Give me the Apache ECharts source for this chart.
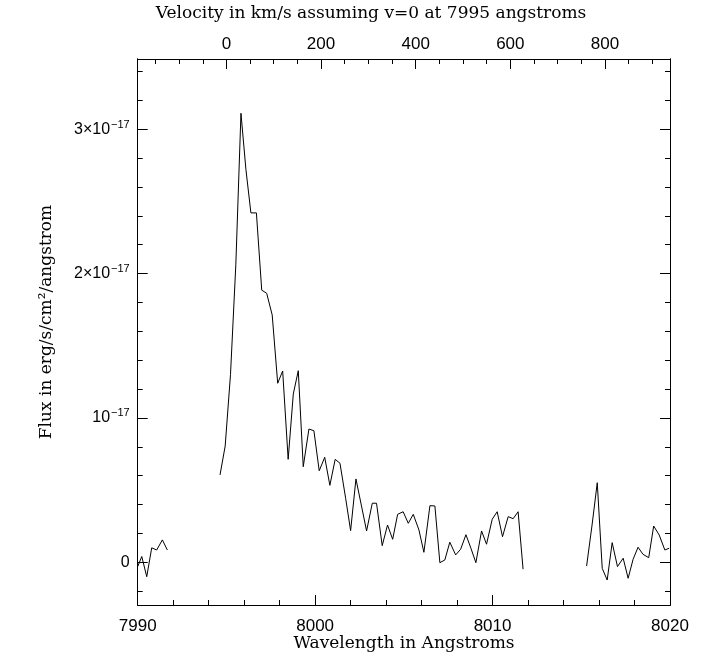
<!DOCTYPE html>
<html><head><meta charset="utf-8">
<script src="https://cdn.jsdelivr.net/npm/echarts@6/dist/echarts.min.js"></script>
<style>html,body{margin:0;padding:0;background:#fff}#c{width:704px;height:653px}</style>
</head><body><div id="c"></div>
<script>
// Flux values in units of 1e-17 erg/s/cm^2/angstrom
const wave1 = [7990.00, 7990.23, 7990.51, 7990.79, 7991.07, 7991.39, 7991.67];
const flux1 = [-0.03, 0.04, -0.10, 0.10, 0.085, 0.155, 0.085];

const wave2 = [7994.64, 7994.93, 7995.23, 7995.53, 7995.82, 7996.10, 7996.38, 7996.69, 7996.99,
  7997.27, 7997.58, 7997.89, 7998.17, 7998.48, 7998.77, 7999.05, 7999.33, 7999.65, 7999.93,
  8000.23, 8000.54, 8000.83, 8001.13, 8001.40, 8001.72, 8002.00, 8002.30, 8002.60, 8002.90,
  8003.22, 8003.46, 8003.78, 8004.08, 8004.37, 8004.65, 8004.96, 8005.25, 8005.53, 8005.85,
  8006.13, 8006.47, 8006.75, 8007.03, 8007.31, 8007.59, 8007.92, 8008.20, 8008.50, 8008.78,
  8009.06, 8009.38, 8009.66, 8009.98, 8010.26, 8010.56, 8010.88, 8011.16, 8011.44, 8011.72];
const flux2 = [0.605, 0.805, 1.30, 2.06, 3.11, 2.72, 2.42, 2.42, 1.885,
  1.863, 1.713, 1.240, 1.325, 0.713, 1.166, 1.327, 0.662, 0.923, 0.911,
  0.634, 0.727, 0.533, 0.713, 0.686, 0.443, 0.219, 0.577, 0.397, 0.217,
  0.409, 0.409, 0.115, 0.258, 0.159, 0.332, 0.350, 0.270, 0.332, 0.224,
  0.069, 0.392, 0.390, -0.003, 0.016, 0.139, 0.051, 0.090, 0.191, 0.097,
  -0.003, 0.217, 0.125, 0.298, 0.350, 0.177, 0.316, 0.302, 0.350, -0.048];

const wave3 = [8015.30, 8015.60, 8015.90, 8016.18, 8016.46, 8016.74, 8017.04, 8017.36, 8017.64,
  8017.92, 8018.20, 8018.48, 8018.80, 8019.08, 8019.39, 8019.71, 8019.95];
const flux3 = [-0.026, 0.251, 0.551, -0.042, -0.123, 0.136, -0.030, 0.028, -0.111,
  0.021, 0.104, 0.055, 0.032, 0.251, 0.189, 0.085, 0.097];

const waveMajor = [7990, 8000, 8010, 8020];
const waveMinor = [7992, 7994, 7996, 7998, 8002, 8004, 8006, 8008, 8012, 8014, 8016, 8018];
const velMajor = [0, 200, 400, 600, 800];
const velMinor = [-150, -100, -50, 50, 100, 150, 250, 300, 350, 450, 500, 550, 650, 700, 750, 850, 900];
const fluxMajor = [0, 1, 2, 3];
const fluxMinor = [-0.2, 0.2, 0.4, 0.6, 0.8, 1.2, 1.4, 1.6, 1.8, 2.2, 2.4, 2.6, 2.8, 3.2, 3.4];

const titleTop = 'Velocity in km/s assuming v=0 at 7995 angstroms';
const titleX = 'Wavelength in Angstroms';
const titleY = 'Flux in erg/s/cm\u00b2/angstrom';

const X_MIN = 7990, X_MAX = 8020, Y_MIN = -0.296, Y_MAX = 3.486;
const C_KMS = 299792.458, LAMBDA0 = 7995;
const V_MIN = C_KMS * (X_MIN - LAMBDA0) / LAMBDA0;
const V_MAX = C_KMS * (X_MAX - LAMBDA0) / LAMBDA0;

const SANS = 'Liberation Sans, Arial, sans-serif';
const SERIF = 'DejaVu Serif, serif';
const black = '#000';
const plain = function (v) { return String(v); };

function tickAxis(pos, min, max, ticks, len, labels) {
  const a = {
    type: 'value', position: pos, min: min, max: max, scale: false,
    axisLine: { show: true, onZero: false, lineStyle: { color: black, width: 1 } },
    axisTick: { show: true, inside: true, length: len, customValues: ticks, lineStyle: { color: black, width: 1 } },
    splitLine: { show: false },
    axisLabel: { show: false }
  };
  if (labels) a.axisLabel = labels;
  return a;
}

const chart = echarts.init(document.getElementById('c'), null, { renderer: 'canvas' });
chart.setOption({
  animation: false,
  backgroundColor: '#fff',
  grid: { left: 137.7, right: 34, top: 59, bottom: 48, containLabel: false, outerBoundsMode: 'none' },
  xAxis: [
    tickAxis('bottom', X_MIN, X_MAX, waveMajor, 10,
      { show: true, customValues: waveMajor, formatter: plain, color: black, fontSize: 17, fontFamily: SANS, margin: 13 }),
    tickAxis('bottom', X_MIN, X_MAX, waveMinor, 5, null),
    tickAxis('top', V_MIN, V_MAX, velMajor, 10,
      { show: true, customValues: velMajor, formatter: plain, color: black, fontSize: 17, fontFamily: SANS, margin: 6 }),
    tickAxis('top', V_MIN, V_MAX, velMinor, 5, null)
  ],
  yAxis: [
    tickAxis('left', Y_MIN, Y_MAX, fluxMajor, 10, {
      show: true, customValues: fluxMajor, margin: 8,
      formatter: function (v) {
        if (v === 0) return '{n|0}';
        if (v === 1) return '{n|10}{s|\u221217}';
        return '{n|' + v + '\u00d710}{s|\u221217}';
      },
      rich: {
        n: { fontSize: 16, fontFamily: SANS, color: black },
        s: { fontSize: 11, fontFamily: SANS, color: black, padding: [0, 0, 9, 1] }
      }
    }),
    tickAxis('left', Y_MIN, Y_MAX, fluxMinor, 5, null),
    tickAxis('right', Y_MIN, Y_MAX, fluxMajor, 10, null),
    tickAxis('right', Y_MIN, Y_MAX, fluxMinor, 5, null)
  ],
  series: [[wave1, flux1], [wave2, flux2], [wave3, flux3]].map(function (s) {
    return {
      type: 'line', xAxisIndex: 0, yAxisIndex: 0,
      data: s[0].map(function (w, i) { return [w, s[1][i]]; }),
      symbol: 'none', showSymbol: false, clip: true,
      lineStyle: { color: black, width: 1 }
    };
  }),
  graphic: [
    { type: 'text', x: 371, y: 14, style: { text: titleTop, fontSize: 17, fontFamily: SERIF, fill: black, align: 'center', verticalAlign: 'middle' } },
    { type: 'text', x: 404, y: 644, style: { text: titleX, fontSize: 17, fontFamily: SERIF, fill: black, align: 'center', verticalAlign: 'middle' } },
    { type: 'text', x: 47, y: 322, rotation: Math.PI / 2, style: { text: titleY, fontSize: 17, fontFamily: SERIF, fill: black, align: 'center', verticalAlign: 'middle' } }
  ]
});
</script>
</body></html>
